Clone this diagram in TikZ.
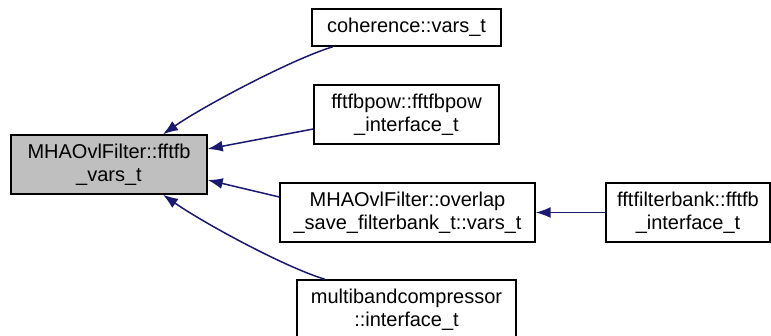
\documentclass[tikz,border=0pt]{standalone}
\usepackage{fontspec}
\setmainfont{Liberation Sans}
\usepackage{xcolor}
\usepackage{tikz}
\usetikzlibrary{arrows.meta, positioning}

\definecolor{edgeblue}{RGB}{25,25,112}
\definecolor{nodegray}{RGB}{191,191,191}

\begin{document}
\begin{tikzpicture}[x=0.5pt, y=-0.5pt,
    box/.style={draw, line width=0.7pt, inner sep=0pt, align=center,
        font=\fontsize{10}{11.5}\selectfont},
    edge/.style={draw=edgeblue, line width=0.75pt,
        {Latex[length=7.5pt, width=5.5pt]}-}]
    \useasboundingbox (0,0) rectangle (771,336);

    % 1. Nút chính (tô xám)
    \node[box, fill=nodegray, minimum width=98pt, minimum height=29.5pt] (main)
        at (109,164.5) {MHAOvlFilter::fftfb\\\_vars\_t};

    % 2. Các nút ở cột giữa
    \node[box, minimum width=94.5pt, minimum height=18.5pt] (coh)
        at (406.5,27.5) {coherence::vars\_t};
    \node[box, minimum width=92.5pt, minimum height=29.5pt] (fbp)
        at (406.5,114.5) {fftfbpow::fftfbpow\\\_interface\_t};
    \node[box, minimum width=127.5pt, minimum height=29.5pt] (ovl)
        at (407.5,212.5) {MHAOvlFilter::overlap\\\_save\_filterbank\_t::vars\_t};
    \node[box, minimum width=109.5pt, minimum height=29.5pt] (mbc)
        at (406.5,309.5) {multibandcompressor\\::interface\_t};

    % 3. Nút ở cột phải
    \node[box, minimum width=82pt, minimum height=29.5pt] (ffb)
        at (688,212.5) {fftfilterbank::fftfb\\\_interface\_t};

    % 4. Các mũi tên về nút chính
    \draw[edge] ([xshift=27pt]main.north) .. controls +(40,-28) and +(-40,12) ..
        ([xshift=-36.75pt]coh.south);
    \draw[edge] ([yshift=7.75pt]main.east) -- ([yshift=-7.25pt]fbp.west);
    \draw[edge] ([yshift=-7.75pt]main.east) -- ([yshift=7.75pt]ovl.west);
    \draw[edge] ([xshift=27pt]main.south) .. controls +(40,28) and +(-40,-12) ..
        ([xshift=-40.75pt]mbc.north);

    % 5. Mũi tên giữa hai cột phải
    \draw[edge] (ovl.east) -- (ffb.west);
\end{tikzpicture}
\end{document}
